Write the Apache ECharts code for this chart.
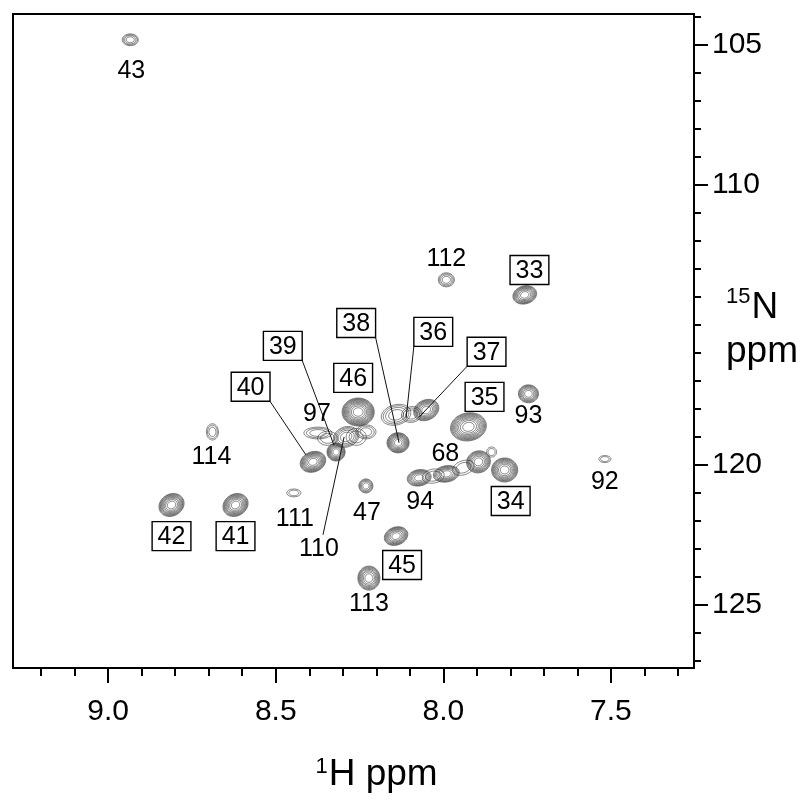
<!DOCTYPE html>
<html>
<head>
<meta charset="utf-8">
<script src="https://cdn.jsdelivr.net/npm/echarts@6/dist/echarts.min.js"></script>
<style>
  html, body { margin: 0; padding: 0; background: #fff; }
  #chart { width: 800px; height: 811px; }
</style>
</head>
<body>
<div id="chart"></div>
<script>
// 1H / 15N shifts of each cross peak (ppm), linewidths (half, ppm), contour levels, tilt (deg)
// the last entries are weak shoulders joining overlapped peaks
var peakH  = [8.934, 7.991, 7.757, 7.746, 7.925, 7.518, 7.817, 7.895, 7.991, 8.072, 7.856, 8.254, 8.389, 8.320, 8.290, 8.374, 8.231, 8.135, 8.141, 8.051, 8.689, 8.446, 8.231, 8.811, 8.620, 8.141, 8.222, 8.030, 7.940, 8.345, 8.260, 8.095];
var peakN  = [104.82, 113.39, 113.93, 117.46, 118.64, 119.79, 120.18, 119.89, 120.32, 120.46, 119.54, 118.11, 119.89, 119.54, 119.00, 118.86, 118.82, 119.21, 118.21, 118.04, 118.82, 121.00, 120.75, 121.43, 121.43, 122.54, 124.04, 120.40, 120.10, 119.05, 119.00, 118.20];
var peakWH = [0.024, 0.024, 0.036, 0.030, 0.054, 0.018, 0.039, 0.036, 0.039, 0.036, 0.015, 0.048, 0.039, 0.027, 0.039, 0.042, 0.030, 0.033, 0.045, 0.039, 0.018, 0.021, 0.021, 0.039, 0.039, 0.036, 0.033, 0.033, 0.033, 0.030, 0.030, 0.030];
var peakWN = [0.21, 0.25, 0.32, 0.32, 0.50, 0.125, 0.43, 0.39, 0.29, 0.29, 0.18, 0.50, 0.36, 0.32, 0.36, 0.21, 0.25, 0.36, 0.36, 0.36, 0.29, 0.14, 0.25, 0.39, 0.39, 0.32, 0.43, 0.25, 0.25, 0.25, 0.30, 0.28];
var peakLevels = [4, 4, 8, 7, 10, 2, 9, 8, 7, 7, 2, 11, 9, 8, 5, 3, 3, 9, 4, 8, 3, 2, 5, 9, 9, 8, 8, 2, 2, 2, 2, 3];
var peakTilt = [0, 0, 15, 0, 10, 0, 0, 20, 10, 10, 0, 0, 20, 0, 20, 0, 0, 0, 15, 25, 0, 0, 0, 30, 30, 20, 0, 10, 20, 0, 0, 10];

// assignment labels
var labelText  = ['43', '112', '33', '93', '35', '92', '34', '68', '94', '36', '37', '38', '46', '39', '40', '97', '110', '114', '111', '47', '42', '41', '45', '113'];
var labelH     = [8.931, 7.991, 7.743, 7.746, 7.877, 7.518, 7.799, 7.994, 8.069, 8.030, 7.871, 8.260, 8.269, 8.479, 8.575, 8.377, 8.371, 8.692, 8.443, 8.228, 8.811, 8.620, 8.123, 8.222];
var labelN     = [105.89, 112.61, 113.04, 118.21, 117.57, 120.57, 121.29, 119.57, 121.29, 115.25, 115.96, 114.93, 116.89, 115.75, 117.21, 118.14, 122.96, 119.68, 121.89, 121.68, 122.54, 122.54, 123.57, 124.93];
var labelBoxed = [0, 0, 1, 0, 1, 0, 1, 0, 0, 1, 1, 1, 1, 1, 1, 0, 0, 0, 0, 0, 1, 1, 1, 0];
// leader line ends (null = no line)
var leaderH = [null, null, null, null, null, null, null, null, null, 8.111, 8.072, 8.132, null, 8.326, 8.410, null, 8.296, null, null, null, null, null, null, null];
var leaderN = [null, null, null, null, null, null, null, null, null, 118.32, 118.29, 119.21, null, 119.30, 119.64, null, 119.00, null, null, null, null, null, null, null];

// axis ticks
var xMajorTicks = [7.5, 8.0, 8.5, 9.0];
var xMinorTicks = [7.3, 7.4, 7.6, 7.7, 7.8, 7.9, 8.1, 8.2, 8.3, 8.4, 8.6, 8.7, 8.8, 8.9, 9.1, 9.2];
var yMajorTicks = [105, 110, 120, 125];
var yMinorTicks = [104, 106, 107, 108, 109, 111, 112, 113, 114, 115, 116, 117, 118, 119, 121, 122, 123, 124, 126, 127];

var FONT = 'Liberation Sans, Arial, Helvetica, sans-serif';

var peakData = peakH.map(function (h, i) {
  return [h, peakN[i], peakWH[i], peakWN[i], peakLevels[i], peakTilt[i]];
});
var labelData = labelH.map(function (h, i) { return [h, labelN[i]]; });

function renderPeak(params, api) {
  var c = api.coord([api.value(0), api.value(1)]);
  var o = api.coord([api.value(0) + api.value(2), api.value(1) + api.value(3)]);
  var rx = Math.abs(o[0] - c[0]);
  var ry = Math.abs(o[1] - c[1]);
  var levels = api.value(4);
  var th = api.value(5) * Math.PI / 180;
  var children = [];
  for (var k = 0; k < levels; k++) {
    var f = Math.sqrt(1 - k / levels);
    var pts = [];
    for (var j = 0; j < 40; j++) {
      var t = j / 40 * Math.PI * 2;
      var ex = rx * f * Math.cos(t), ey = ry * f * Math.sin(t);
      pts.push([c[0] + ex * Math.cos(th) - ey * Math.sin(th),
                c[1] - (ex * Math.sin(th) + ey * Math.cos(th))]);
    }
    children.push({
      type: 'polygon',
      shape: { points: pts },
      style: { fill: null, stroke: '#303030', lineWidth: 0.6 }
    });
  }
  return { type: 'group', children: children };
}

function renderLabel(params, api) {
  var i = params.dataIndex;
  var p = api.coord([labelH[i], labelN[i]]);
  var txt = labelText[i];
  var fs = 25;
  var w = txt.length * fs * 0.556 + 11;
  var hgt = 29;
  var children = [];
  if (leaderH[i] != null) {
    var q = api.coord([leaderH[i], leaderN[i]]);
    var s;
    if (labelBoxed[i]) {
      s = [q[0] > p[0] ? p[0] + w / 2 : p[0] - w / 2, p[1] + hgt / 2];
    } else {
      s = [p[0] + 4, p[1] - 13];
    }
    children.push({
      type: 'line',
      shape: { x1: s[0], y1: s[1], x2: q[0], y2: q[1] },
      style: { stroke: '#111', lineWidth: 1 }
    });
  }
  if (labelBoxed[i]) {
    children.push({
      type: 'rect',
      shape: { x: p[0] - w / 2, y: p[1] - hgt / 2, width: w, height: hgt },
      style: { fill: '#fff', stroke: '#000', lineWidth: 1.4 }
    });
  }
  children.push({
    type: 'text',
    x: p[0], y: p[1] + 1,
    style: {
      text: txt, fill: '#000', font: fs + 'px ' + FONT,
      align: 'center', verticalAlign: 'middle'
    }
  });
  return { type: 'group', children: children };
}

var chart = echarts.init(document.getElementById('chart'));
var xRange = { min: 7.252, max: 9.284 };
var yRange = { min: 103.9, max: 127.25 };

chart.setOption({
  animation: false,
  backgroundColor: '#fff',
  grid: {
    left: 13, right: 106, top: 14, bottom: 143,
    outerBoundsMode: 'none', containLabel: false,
    show: true, borderColor: '#000', borderWidth: 2
  },
  xAxis: [{
    type: 'value', position: 'bottom', inverse: true,
    min: xRange.min, max: xRange.max,
    axisLine: { show: true, onZero: false, lineStyle: { color: '#000', width: 2 } },
    axisTick: { show: true, length: 15, customValues: xMajorTicks, lineStyle: { color: '#000', width: 2 } },
    axisLabel: {
      customValues: xMajorTicks, margin: 29, color: '#000', fontSize: 30, fontFamily: FONT,
      formatter: function (v) { return v.toFixed(1); }
    },
    splitLine: { show: false },
    name: '{sup|1}{main|H ppm}',
    nameLocation: 'middle', nameGap: 88, nameMoveOverlap: false,
    nameTextStyle: {
      padding: [0, 0, 0, 46],
      rich: {
        sup: { fontSize: 22, fontFamily: FONT, color: '#000', verticalAlign: 'top', padding: [0, 1, 14, 0] },
        main: { fontSize: 37, fontFamily: FONT, color: '#000' }
      }
    }
  }, {
    type: 'value', position: 'bottom', inverse: true,
    min: xRange.min, max: xRange.max,
    axisLine: { show: false, onZero: false },
    axisTick: { show: true, length: 8, customValues: xMinorTicks, lineStyle: { color: '#000', width: 2 } },
    axisLabel: { show: false },
    splitLine: { show: false }
  }],
  yAxis: [{
    type: 'value', position: 'right', inverse: true,
    min: yRange.min, max: yRange.max,
    axisLine: { show: true, onZero: false, lineStyle: { color: '#000', width: 2 } },
    axisTick: { show: true, length: 14, customValues: yMajorTicks, lineStyle: { color: '#000', width: 2 } },
    axisLabel: { customValues: yMajorTicks, margin: 18, color: '#000', fontSize: 30, fontFamily: FONT },
    splitLine: { show: false },
    name: '{sup|15}{main|N}\n{main|ppm}',
    nameLocation: 'middle', nameRotate: 0, nameGap: 32, nameMoveOverlap: false,
    nameTextStyle: {
      padding: [0, 0, 22, 0],
      rich: {
        sup: { fontSize: 22, fontFamily: FONT, color: '#000', verticalAlign: 'top', padding: [0, 1, 14, 0] },
        main: { fontSize: 37, fontFamily: FONT, color: '#000', lineHeight: 44 }
      }
    }
  }, {
    type: 'value', position: 'right', inverse: true,
    min: yRange.min, max: yRange.max,
    axisLine: { show: false, onZero: false },
    axisTick: { show: true, length: 7, customValues: yMinorTicks, lineStyle: { color: '#000', width: 2 } },
    axisLabel: { show: false },
    splitLine: { show: false }
  }],
  series: [{
    type: 'custom', name: 'peaks',
    xAxisIndex: 0, yAxisIndex: 0,
    renderItem: renderPeak,
    data: peakData,
    silent: true, z: 2
  }, {
    type: 'custom', name: 'labels',
    xAxisIndex: 0, yAxisIndex: 0,
    renderItem: renderLabel,
    data: labelData,
    silent: true, z: 3
  }]
});
</script>
</body>
</html>
